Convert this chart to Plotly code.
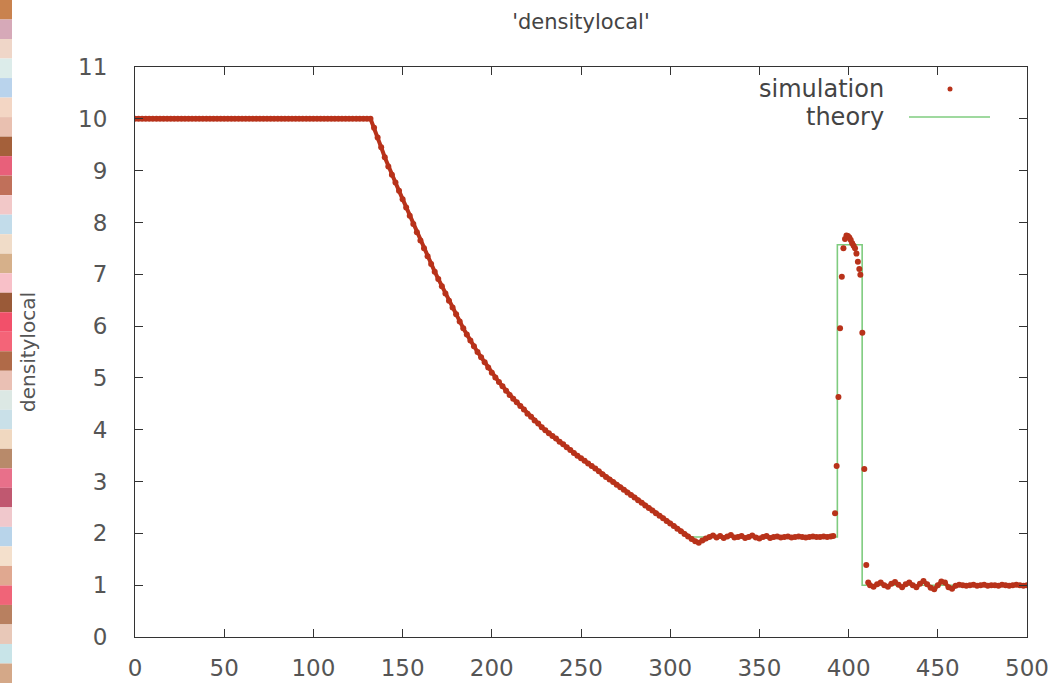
import plotly.graph_objects as go

# ---------------- data ----------------
# simulation: flat left state (x = 0..130 step 2)
sim_left_x = list(range(0, 132, 2))
sim_left_y = [10.0, 10.0, 10.0, 10.0, 10.0, 10.0, 10.0, 10.0, 10.0, 10.0, 10.0,
              10.0, 10.0, 10.0, 10.0, 10.0, 10.0, 10.0, 10.0, 10.0, 10.0, 10.0,
              10.0, 10.0, 10.0, 10.0, 10.0, 10.0, 10.0, 10.0, 10.0, 10.0, 10.0,
              10.0, 10.0, 10.0, 10.0, 10.0, 10.0, 10.0, 10.0, 10.0, 10.0, 10.0,
              10.0, 10.0, 10.0, 10.0, 10.0, 10.0, 10.0, 10.0, 10.0, 10.0, 10.0,
              10.0, 10.0, 10.0, 10.0, 10.0, 10.0, 10.0, 10.0, 10.0, 10.0, 10.0]

# simulation: rarefaction (x = 132..316 step 2)
sim_rare_x = list(range(132, 318, 2))
sim_rare_y = [10.00, 9.83, 9.64, 9.45, 9.26, 9.08, 8.92, 8.77, 8.61, 8.45,
              8.29, 8.13, 7.97, 7.81, 7.65, 7.50, 7.35, 7.20, 7.05, 6.91,
              6.77, 6.63, 6.49, 6.36, 6.23, 6.09, 5.96, 5.84, 5.72, 5.61,
              5.50, 5.40, 5.30, 5.20, 5.10, 5.01, 4.92, 4.84, 4.75, 4.67,
              4.60, 4.53, 4.46, 4.39, 4.31, 4.25, 4.18, 4.12, 4.05, 3.99,
              3.93, 3.88, 3.83, 3.77, 3.72, 3.66, 3.61, 3.55, 3.50, 3.45,
              3.40, 3.35, 3.30, 3.25, 3.20, 3.14, 3.09, 3.04, 2.99, 2.94,
              2.89, 2.84, 2.79, 2.74, 2.69, 2.64, 2.59, 2.54, 2.49, 2.44,
              2.39, 2.34, 2.29, 2.24, 2.19, 2.14, 2.09, 2.04, 1.99, 1.94,
              1.89, 1.85, 1.82]

# simulation: plateau (x = 318..390 step 2)
sim_plat_x = list(range(318, 392, 2))
sim_plat_y = [1.86, 1.90, 1.93, 1.96, 1.92, 1.95, 1.91, 1.94, 1.97, 1.92,
              1.93, 1.95, 1.91, 1.93, 1.96, 1.92, 1.90, 1.93, 1.95, 1.91,
              1.93, 1.94, 1.92, 1.93, 1.94, 1.92, 1.93, 1.94, 1.93, 1.92,
              1.93, 1.94, 1.93, 1.93, 1.94, 1.93, 1.94]

# simulation: dense shell
sim_shell_x = [391.4, 392.4, 393.3, 394.3, 395.2, 396.2, 397.1, 398.0, 398.8,
               399.6, 400.4, 401.2, 402.0, 402.8, 403.6, 404.4, 405.2, 406.0,
               406.6, 407.7, 408.8, 409.9, 411.0]
sim_shell_y = [1.95, 2.39, 3.30, 4.63, 5.96, 6.95, 7.50, 7.68, 7.75,
               7.74, 7.71, 7.66, 7.60, 7.55, 7.50, 7.40, 7.24, 7.10,
               6.99, 5.87, 3.24, 1.39, 1.05]

# simulation: right state (x = 412..500 step 2)
sim_right_x = list(range(412, 502, 2))
sim_right_y = [1.00, 0.97, 1.02, 1.05, 1.00, 0.97, 1.03, 1.06, 1.01, 0.96,
               1.02, 1.05, 1.00, 0.96, 1.03, 1.08, 1.02, 0.95, 0.92, 1.00,
               1.07, 1.05, 0.96, 0.93, 0.99, 1.01, 1.00, 0.99, 1.00, 1.01,
               0.99, 1.00, 1.01, 0.99, 1.00, 1.00, 0.99, 1.01, 1.00, 0.99,
               1.00, 1.01, 1.00, 0.99, 1.00]

# theory (piecewise solution)
theory_x = [0, 132, 140, 150, 160, 170, 180, 190, 200, 210, 220, 230, 240,
            250, 260, 270, 280, 290, 300, 310, 314, 393.7, 393.7, 407.6,
            407.6, 500]
theory_y = [10.0, 10.0, 9.26, 8.45, 7.65, 6.91, 6.23, 5.61, 5.10, 4.67, 4.31,
            3.99, 3.72, 3.45, 3.20, 2.94, 2.69, 2.44, 2.19, 1.94, 1.93, 1.93,
            7.57, 7.57, 1.0, 1.0]

x_ticks = [0, 50, 100, 150, 200, 250, 300, 350, 400, 450, 500]
y_ticks = [0, 1, 2, 3, 4, 5, 6, 7, 8, 9, 10, 11]

# decorative left strip colours (top to bottom)
strip_colors = ["#c9824e", "#d6a9b8", "#efd6c8", "#dcecea", "#b9d3ec", "#f3d6c4",
                "#e9c0b0", "#a4603a", "#e8607a", "#c0705a", "#f2c8c8", "#c2dcea",
                "#f0dcc8", "#d6b08a", "#f8c0c8", "#9a5a38", "#f2506a", "#f46478",
                "#b06a48", "#eac0b4", "#dce8e4", "#c9e0e8", "#f0d8c0", "#b88a6a",
                "#e8708a", "#c05870", "#f0c8cc", "#b8d4ea", "#f4e0cc", "#e0a890",
                "#f06478", "#b88060", "#e8c8b8", "#c8e4e8", "#d4a888"]

SIM_COLOR = "#b8321a"
TH_COLOR = "#7fcc7f"

# ---------------- figure ----------------
fig = go.Figure()

fig.add_trace(go.Scatter(
    x=theory_x, y=theory_y, mode="lines", name="theory",
    line=dict(color=TH_COLOR, width=1.6), showlegend=False))

# smooth parts: dense dots rendered as markers joined by a thick band
for sx, sy in [(sim_left_x, sim_left_y), (sim_rare_x, sim_rare_y),
               (sim_plat_x, sim_plat_y), (sim_right_x, sim_right_y)]:
    fig.add_trace(go.Scatter(
        x=sx, y=sy, mode="lines+markers", name="simulation",
        line=dict(color=SIM_COLOR, width=4),
        marker=dict(color=SIM_COLOR, size=6, line=dict(width=0)),
        showlegend=False))

fig.add_trace(go.Scatter(
    x=sim_shell_x, y=sim_shell_y, mode="markers", name="simulation",
    marker=dict(color=SIM_COLOR, size=6, line=dict(width=0)),
    showlegend=False))

L, R, T, B = 135, 26, 67, 46
W, H = 1053, 683
pw = W - L - R
ph = H - T - B

shapes = []
n = len(strip_colors)
for i, c in enumerate(strip_colors):
    shapes.append(dict(type="rect", xref="paper", yref="paper",
                       x0=-L / pw, x1=(12 - L) / pw,
                       y0=1 + (T - (i + 1) * H / n) / ph,
                       y1=1 + (T - i * H / n) / ph,
                       fillcolor=c, line=dict(width=0), layer="below"))


def px2paper_x(px):
    return (px - L) / pw


def py2paper_y(py):
    return 1 - (py - T) / ph


# custom gnuplot-like legend (text right-aligned, sample to the right)
shapes.append(dict(type="line", xref="paper", yref="paper",
                   x0=px2paper_x(909), x1=px2paper_x(990),
                   y0=py2paper_y(117), y1=py2paper_y(117),
                   line=dict(color=TH_COLOR, width=1.6)))
shapes.append(dict(type="circle", xref="paper", yref="paper",
                   x0=px2paper_x(947.5), x1=px2paper_x(952.5),
                   y0=py2paper_y(86.5), y1=py2paper_y(91.5),
                   fillcolor=SIM_COLOR, line=dict(width=0)))

annotations = [
    dict(text="simulation", xref="paper", yref="paper",
         x=px2paper_x(886), y=py2paper_y(89), xanchor="right", yanchor="middle",
         showarrow=False, font=dict(family="DejaVu Sans", size=24, color="#444444")),
    dict(text="theory", xref="paper", yref="paper",
         x=px2paper_x(886), y=py2paper_y(117), xanchor="right", yanchor="middle",
         showarrow=False, font=dict(family="DejaVu Sans", size=24, color="#444444")),
]

fig.update_layout(
    width=W, height=H,
    margin=dict(l=L, r=R, t=T, b=B, autoexpand=False),
    paper_bgcolor="white", plot_bgcolor="white",
    title=dict(text="'densitylocal'", x=(L + pw / 2) / W, xanchor="center",
               y=1 - 22 / H, yanchor="middle", automargin=False,
               font=dict(family="DejaVu Sans", size=21, color="#444444")),
    shapes=shapes, annotations=annotations,
    font=dict(family="DejaVu Sans", color="#555555"),
)

fig.update_xaxes(
    range=[0, 500], tickvals=x_ticks, ticktext=[str(v) for v in x_ticks],
    showgrid=False, zeroline=False, showline=True, linecolor="#333333",
    linewidth=1.2, mirror="ticks", ticks="inside", ticklen=8,
    tickcolor="#333333", tickfont=dict(size=23, color="#555555"),
    ticklabelstandoff=10, automargin=False)

fig.update_yaxes(
    range=[0, 11], tickvals=y_ticks, ticktext=[str(v) for v in y_ticks],
    showgrid=False, zeroline=False, showline=True, linecolor="#333333",
    linewidth=1.2, mirror="ticks", ticks="inside", ticklen=8,
    tickcolor="#333333", tickfont=dict(size=23, color="#555555"),
    ticklabelstandoff=22, automargin=False,
    title=dict(text="densitylocal", standoff=37,
               font=dict(size=20, color="#555555")))

fig.write_html("out.html")
